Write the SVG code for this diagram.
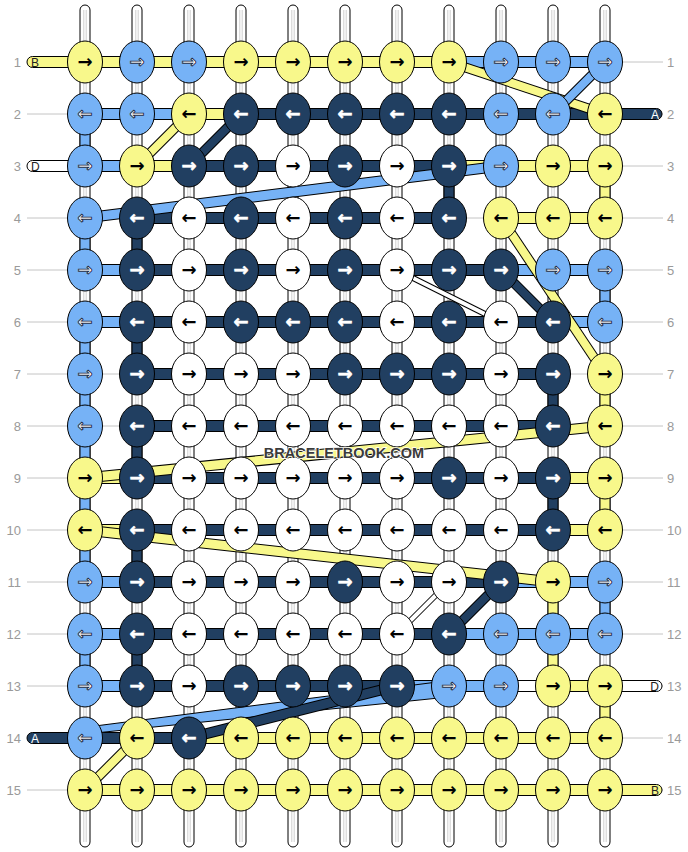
<svg xmlns="http://www.w3.org/2000/svg" width="688" height="852" viewBox="0 0 688 852">
<style>
.g{stroke:#c4c4c4;stroke-width:1}
.st{fill:#fff;stroke:#000;stroke-width:1}
.sl{stroke:#cfcfcf;stroke-width:1;fill:none}
.Y{fill:#F8F88B}.B{fill:#76B2F6}.D{fill:#213F61}.W{fill:#fff}
.o{stroke:#000;stroke-width:1}
ellipse{stroke:#000;stroke-width:1}
.a{font-family:"DejaVu Sans",sans-serif;font-size:18px;font-weight:bold;text-anchor:middle}
.k{fill:#000}
.w{fill:#fff;stroke:#1b2b44;stroke-width:0.9}
ellipse.D+text{stroke:#fff;stroke-width:0.6}
.lb{font-family:"Liberation Sans",Arial,sans-serif;font-size:13px;fill:#9a9a9a}
.le{text-anchor:end}
.tl{font-family:"Liberation Sans",Arial,sans-serif;font-size:12px}
.dl{fill:none;stroke-linecap:butt}
.k10{stroke:#000;stroke-width:10}.k11{stroke:#000;stroke-width:11}.k6{stroke:#000;stroke-width:6}
.sY{stroke:#F8F88B}.sB{stroke:#76B2F6}.sD{stroke:#213F61}.sW{stroke:#fff}
.w8{stroke-width:8}.w9{stroke-width:9}.w4{stroke-width:4}
.wm{font-family:"Liberation Sans",Arial,sans-serif;font-size:14.5px;font-weight:bold;fill:#3b3b3b;stroke:#fff;stroke-width:1.5;paint-order:stroke;text-anchor:middle}
</style>
<g id="guides">
<line class="g" x1="27" x2="663" y1="62" y2="62"/><line class="g" x1="27" x2="663" y1="114" y2="114"/><line class="g" x1="27" x2="663" y1="166" y2="166"/><line class="g" x1="27" x2="663" y1="218" y2="218"/><line class="g" x1="27" x2="663" y1="270" y2="270"/><line class="g" x1="27" x2="663" y1="322" y2="322"/><line class="g" x1="27" x2="663" y1="374" y2="374"/><line class="g" x1="27" x2="663" y1="426" y2="426"/><line class="g" x1="27" x2="663" y1="478" y2="478"/><line class="g" x1="27" x2="663" y1="530" y2="530"/><line class="g" x1="27" x2="663" y1="582" y2="582"/><line class="g" x1="27" x2="663" y1="634" y2="634"/><line class="g" x1="27" x2="663" y1="686" y2="686"/><line class="g" x1="27" x2="663" y1="738" y2="738"/><line class="g" x1="27" x2="663" y1="790" y2="790"/>
</g>
<g id="labels">
<text class="lb le" x="21" y="66.5">1</text><text class="lb le" x="21" y="118.5">2</text><text class="lb le" x="21" y="170.5">3</text><text class="lb le" x="21" y="222.5">4</text><text class="lb le" x="21" y="274.5">5</text><text class="lb le" x="21" y="326.5">6</text><text class="lb le" x="21" y="378.5">7</text><text class="lb le" x="21" y="430.5">8</text><text class="lb le" x="21" y="482.5">9</text><text class="lb le" x="21" y="534.5">10</text><text class="lb le" x="21" y="586.5">11</text><text class="lb le" x="21" y="638.5">12</text><text class="lb le" x="21" y="690.5">13</text><text class="lb le" x="21" y="742.5">14</text><text class="lb le" x="21" y="794.5">15</text>
<text class="lb" x="667" y="66.5">1</text><text class="lb" x="667" y="118.5">2</text><text class="lb" x="667" y="170.5">3</text><text class="lb" x="667" y="222.5">4</text><text class="lb" x="667" y="274.5">5</text><text class="lb" x="667" y="326.5">6</text><text class="lb" x="667" y="378.5">7</text><text class="lb" x="667" y="430.5">8</text><text class="lb" x="667" y="482.5">9</text><text class="lb" x="667" y="534.5">10</text><text class="lb" x="667" y="586.5">11</text><text class="lb" x="667" y="638.5">12</text><text class="lb" x="667" y="690.5">13</text><text class="lb" x="667" y="742.5">14</text><text class="lb" x="667" y="794.5">15</text>
</g>
<g id="strands">
<rect class="st" x="80" y="5" width="10" height="842" rx="5"/><rect class="st" x="132" y="5" width="10" height="842" rx="5"/><rect class="st" x="184" y="5" width="10" height="842" rx="5"/><rect class="st" x="236" y="5" width="10" height="842" rx="5"/><rect class="st" x="288" y="5" width="10" height="842" rx="5"/><rect class="st" x="340" y="5" width="10" height="842" rx="5"/><rect class="st" x="392" y="5" width="10" height="842" rx="5"/><rect class="st" x="444" y="5" width="10" height="842" rx="5"/><rect class="st" x="496" y="5" width="10" height="842" rx="5"/><rect class="st" x="548" y="5" width="10" height="842" rx="5"/><rect class="st" x="600" y="5" width="10" height="842" rx="5"/>
<path class="sl" d="M83.8 10V842M86.2 10V842M135.8 10V842M138.2 10V842M187.8 10V842M190.2 10V842M239.8 10V842M242.2 10V842M291.8 10V842M294.2 10V842M343.8 10V842M346.2 10V842M395.8 10V842M398.2 10V842M447.8 10V842M450.2 10V842M499.8 10V842M502.2 10V842M551.8 10V842M554.2 10V842M603.8 10V842M606.2 10V842"/>
</g>
<g id="connectors">
<g id="verticals">
<rect class="B o" x="80" y="114" width="10" height="52"/>
<rect class="D o" x="444" y="166" width="10" height="52"/>
<rect class="Y o" x="600" y="166" width="10" height="52"/>
<rect class="B o" x="80" y="218" width="10" height="52"/>
<rect class="D o" x="132" y="218" width="10" height="52"/>
<rect class="B o" x="600" y="270" width="10" height="52"/>
<rect class="B o" x="80" y="322" width="10" height="260"/>
<rect class="D o" x="132" y="322" width="10" height="52"/>
<rect class="D o" x="548" y="374" width="10" height="52"/>
<rect class="Y o" x="600" y="374" width="10" height="52"/>
<rect class="D o" x="132" y="426" width="10" height="52"/>
<rect class="D o" x="548" y="478" width="10" height="52"/>
<rect class="Y o" x="600" y="478" width="10" height="52"/>
<rect class="D o" x="132" y="530" width="10" height="52"/>
<rect class="Y o" x="548" y="582" width="10" height="104"/>
<rect class="B o" x="600" y="582" width="10" height="52"/>
<rect class="B o" x="80" y="634" width="10" height="52"/>
<rect class="D o" x="132" y="634" width="10" height="52"/>
<rect class="Y o" x="600" y="686" width="10" height="52"/>
</g>
<g id="bars">
<rect class="Y o" x="85" y="56.5" width="364" height="11"/><rect class="B o" x="449" y="56.5" width="156" height="11"/>
<rect class="B o" x="85" y="108.5" width="104" height="11"/><rect class="Y o" x="189" y="108.5" width="52" height="11"/><rect class="D o" x="241" y="108.5" width="364" height="11"/>
<rect class="B o" x="85" y="160.5" width="52" height="11"/><rect class="Y o" x="137" y="160.5" width="52" height="11"/><rect class="D o" x="189" y="160.5" width="260" height="11"/><rect class="Y o" x="449" y="160.5" width="156" height="11"/>
<rect class="D o" x="137" y="212.5" width="312" height="11"/><rect class="Y o" x="501" y="212.5" width="104" height="11"/>
<rect class="B o" x="85" y="264.5" width="52" height="11"/><rect class="D o" x="137" y="264.5" width="364" height="11"/><rect class="B o" x="501" y="264.5" width="104" height="11"/>
<rect class="B o" x="85" y="316.5" width="52" height="11"/><rect class="D o" x="137" y="316.5" width="416" height="11"/><rect class="B o" x="553" y="316.5" width="52" height="11"/>
<rect class="D o" x="137" y="368.5" width="416" height="11"/>
<rect class="D o" x="137" y="420.5" width="416" height="11"/>
<rect class="Y o" x="85" y="472.5" width="52" height="11"/><rect class="D o" x="137" y="472.5" width="416" height="11"/><rect class="Y o" x="553" y="472.5" width="52" height="11"/>
<rect class="Y o" x="85" y="524.5" width="52" height="11"/><rect class="D o" x="137" y="524.5" width="416" height="11"/><rect class="Y o" x="553" y="524.5" width="52" height="11"/>
<rect class="B o" x="85" y="576.5" width="52" height="11"/><rect class="D o" x="137" y="576.5" width="364" height="11"/><rect class="B o" x="501" y="576.5" width="104" height="11"/>
<rect class="B o" x="85" y="628.5" width="52" height="11"/><rect class="D o" x="137" y="628.5" width="312" height="11"/><rect class="B o" x="449" y="628.5" width="156" height="11"/>
<rect class="B o" x="85" y="680.5" width="52" height="11"/><rect class="D o" x="137" y="680.5" width="260" height="11"/><rect class="B o" x="397" y="680.5" width="104" height="11"/><rect class="W o" x="501" y="680.5" width="52" height="11"/><rect class="Y o" x="553" y="680.5" width="52" height="11"/>
<rect class="D o" x="85" y="732.5" width="104" height="11"/><rect class="Y o" x="189" y="732.5" width="416" height="11"/>
<rect class="Y o" x="85" y="784.5" width="520" height="11"/>
</g>
<g id="tabs">
<path class="Y o" d="M85,56.5H32.5A5.5,5.5 0 0 0 32.5,67.5H85Z"/><text class="tl" x="31" y="66.5" fill="#222">B</text>
<path class="W o" d="M85,160.5H32.5A5.5,5.5 0 0 0 32.5,171.5H85Z"/><text class="tl" x="31" y="170.5" fill="#222">D</text>
<path class="D o" d="M85,732.5H32.5A5.5,5.5 0 0 0 32.5,743.5H85Z"/><text class="tl" x="31" y="742.5" fill="#fff">A</text>
<path class="D o" d="M605,108.5H656.5A5.5,5.5 0 0 1 656.5,119.5H605Z"/><text class="tl le" x="659" y="118.5" fill="#fff">A</text>
<path class="W o" d="M605,680.5H656.5A5.5,5.5 0 0 1 656.5,691.5H605Z"/><text class="tl le" x="659" y="690.5" fill="#222">D</text>
<path class="Y o" d="M605,784.5H656.5A5.5,5.5 0 0 1 656.5,795.5H605Z"/><text class="tl le" x="659" y="794.5" fill="#222">B</text>
</g>
<g id="diagonals">
<path class="dl k10" d="M449,62L605,114"/><path class="dl sY w8" d="M449,62L605,114"/>
<path class="dl k10" d="M605,62L553,114"/><path class="dl sB w8" d="M605,62L553,114"/>
<path class="dl k10" d="M189,114L137,166"/><path class="dl sY w8" d="M189,114L137,166"/>
<path class="dl k10" d="M241,114L189,166"/><path class="dl sD w8" d="M241,114L189,166"/>
<path class="dl k11" d="M501,166L85,218"/><path class="dl sB w9" d="M501,166L85,218"/>
<path class="dl k10" d="M501,270L553,322"/><path class="dl sD w8" d="M501,270L553,322"/>
<path class="dl k10" d="M501,218L605,374"/><path class="dl sY w8" d="M501,218L605,374"/>
<path class="dl k6" d="M397,270L501,322"/><path class="dl sW w4" d="M397,270L501,322"/>
<path class="dl k11" d="M605,426L85,478"/><path class="dl sY w9" d="M605,426L85,478"/>
<path class="dl k11" d="M85,530L553,582"/><path class="dl sY w9" d="M85,530L553,582"/>
<path class="dl k10" d="M501,582L449,634"/><path class="dl sD w8" d="M501,582L449,634"/>
<path class="dl k6" d="M449,582L397,634"/><path class="dl sW w4" d="M449,582L397,634"/>
<polygon class="B o" points="449,680.5 449,697 95,733 95,726"/>
<path class="dl k11" d="M397,686L189,738"/><path class="dl sD w9" d="M397,686L189,738"/>
<path class="dl k10" d="M137,738L85,790"/><path class="dl sY w8" d="M137,738L85,790"/>
</g>
</g>
<g id="nodes">
<g id="n1"><ellipse class="Y" cx="85" cy="62" rx="17.5" ry="21"/><text class="a k" x="85" y="68">→</text><ellipse class="B" cx="137" cy="62" rx="17.5" ry="21"/><text class="a w" x="137" y="68">→</text><ellipse class="B" cx="189" cy="62" rx="17.5" ry="21"/><text class="a w" x="189" y="68">→</text><ellipse class="Y" cx="241" cy="62" rx="17.5" ry="21"/><text class="a k" x="241" y="68">→</text><ellipse class="Y" cx="293" cy="62" rx="17.5" ry="21"/><text class="a k" x="293" y="68">→</text><ellipse class="Y" cx="345" cy="62" rx="17.5" ry="21"/><text class="a k" x="345" y="68">→</text><ellipse class="Y" cx="397" cy="62" rx="17.5" ry="21"/><text class="a k" x="397" y="68">→</text><ellipse class="Y" cx="449" cy="62" rx="17.5" ry="21"/><text class="a k" x="449" y="68">→</text><ellipse class="B" cx="501" cy="62" rx="17.5" ry="21"/><text class="a w" x="501" y="68">→</text><ellipse class="B" cx="553" cy="62" rx="17.5" ry="21"/><text class="a w" x="553" y="68">→</text><ellipse class="B" cx="605" cy="62" rx="17.5" ry="21"/><text class="a w" x="605" y="68">→</text></g>
<g id="n2"><ellipse class="B" cx="85" cy="114" rx="17.5" ry="21"/><text class="a w" x="85" y="120">←</text><ellipse class="B" cx="137" cy="114" rx="17.5" ry="21"/><text class="a w" x="137" y="120">←</text><ellipse class="Y" cx="189" cy="114" rx="17.5" ry="21"/><text class="a k" x="189" y="120">←</text><ellipse class="D" cx="241" cy="114" rx="17.5" ry="21"/><text class="a w" x="241" y="120">←</text><ellipse class="D" cx="293" cy="114" rx="17.5" ry="21"/><text class="a w" x="293" y="120">←</text><ellipse class="D" cx="345" cy="114" rx="17.5" ry="21"/><text class="a w" x="345" y="120">←</text><ellipse class="D" cx="397" cy="114" rx="17.5" ry="21"/><text class="a w" x="397" y="120">←</text><ellipse class="D" cx="449" cy="114" rx="17.5" ry="21"/><text class="a w" x="449" y="120">←</text><ellipse class="B" cx="501" cy="114" rx="17.5" ry="21"/><text class="a w" x="501" y="120">←</text><ellipse class="B" cx="553" cy="114" rx="17.5" ry="21"/><text class="a w" x="553" y="120">←</text><ellipse class="Y" cx="605" cy="114" rx="17.5" ry="21"/><text class="a k" x="605" y="120">←</text></g>
<g id="n3"><ellipse class="B" cx="85" cy="166" rx="17.5" ry="21"/><text class="a w" x="85" y="172">→</text><ellipse class="Y" cx="137" cy="166" rx="17.5" ry="21"/><text class="a k" x="137" y="172">→</text><ellipse class="D" cx="189" cy="166" rx="17.5" ry="21"/><text class="a w" x="189" y="172">→</text><ellipse class="D" cx="241" cy="166" rx="17.5" ry="21"/><text class="a w" x="241" y="172">→</text><ellipse class="W" cx="293" cy="166" rx="17.5" ry="21"/><text class="a k" x="293" y="172">→</text><ellipse class="D" cx="345" cy="166" rx="17.5" ry="21"/><text class="a w" x="345" y="172">→</text><ellipse class="W" cx="397" cy="166" rx="17.5" ry="21"/><text class="a k" x="397" y="172">→</text><ellipse class="D" cx="449" cy="166" rx="17.5" ry="21"/><text class="a w" x="449" y="172">→</text><ellipse class="B" cx="501" cy="166" rx="17.5" ry="21"/><text class="a w" x="501" y="172">→</text><ellipse class="Y" cx="553" cy="166" rx="17.5" ry="21"/><text class="a k" x="553" y="172">→</text><ellipse class="Y" cx="605" cy="166" rx="17.5" ry="21"/><text class="a k" x="605" y="172">→</text></g>
<g id="n4"><ellipse class="B" cx="85" cy="218" rx="17.5" ry="21"/><text class="a w" x="85" y="224">←</text><ellipse class="D" cx="137" cy="218" rx="17.5" ry="21"/><text class="a w" x="137" y="224">←</text><ellipse class="W" cx="189" cy="218" rx="17.5" ry="21"/><text class="a k" x="189" y="224">←</text><ellipse class="D" cx="241" cy="218" rx="17.5" ry="21"/><text class="a w" x="241" y="224">←</text><ellipse class="W" cx="293" cy="218" rx="17.5" ry="21"/><text class="a k" x="293" y="224">←</text><ellipse class="D" cx="345" cy="218" rx="17.5" ry="21"/><text class="a w" x="345" y="224">←</text><ellipse class="W" cx="397" cy="218" rx="17.5" ry="21"/><text class="a k" x="397" y="224">←</text><ellipse class="D" cx="449" cy="218" rx="17.5" ry="21"/><text class="a w" x="449" y="224">←</text><ellipse class="Y" cx="501" cy="218" rx="17.5" ry="21"/><text class="a k" x="501" y="224">←</text><ellipse class="Y" cx="553" cy="218" rx="17.5" ry="21"/><text class="a k" x="553" y="224">←</text><ellipse class="Y" cx="605" cy="218" rx="17.5" ry="21"/><text class="a k" x="605" y="224">←</text></g>
<g id="n5"><ellipse class="B" cx="85" cy="270" rx="17.5" ry="21"/><text class="a w" x="85" y="276">→</text><ellipse class="D" cx="137" cy="270" rx="17.5" ry="21"/><text class="a w" x="137" y="276">→</text><ellipse class="W" cx="189" cy="270" rx="17.5" ry="21"/><text class="a k" x="189" y="276">→</text><ellipse class="D" cx="241" cy="270" rx="17.5" ry="21"/><text class="a w" x="241" y="276">→</text><ellipse class="W" cx="293" cy="270" rx="17.5" ry="21"/><text class="a k" x="293" y="276">→</text><ellipse class="D" cx="345" cy="270" rx="17.5" ry="21"/><text class="a w" x="345" y="276">→</text><ellipse class="W" cx="397" cy="270" rx="17.5" ry="21"/><text class="a k" x="397" y="276">→</text><ellipse class="D" cx="449" cy="270" rx="17.5" ry="21"/><text class="a w" x="449" y="276">→</text><ellipse class="D" cx="501" cy="270" rx="17.5" ry="21"/><text class="a w" x="501" y="276">→</text><ellipse class="B" cx="553" cy="270" rx="17.5" ry="21"/><text class="a w" x="553" y="276">→</text><ellipse class="B" cx="605" cy="270" rx="17.5" ry="21"/><text class="a w" x="605" y="276">→</text></g>
<g id="n6"><ellipse class="B" cx="85" cy="322" rx="17.5" ry="21"/><text class="a w" x="85" y="328">←</text><ellipse class="D" cx="137" cy="322" rx="17.5" ry="21"/><text class="a w" x="137" y="328">←</text><ellipse class="W" cx="189" cy="322" rx="17.5" ry="21"/><text class="a k" x="189" y="328">←</text><ellipse class="D" cx="241" cy="322" rx="17.5" ry="21"/><text class="a w" x="241" y="328">←</text><ellipse class="D" cx="293" cy="322" rx="17.5" ry="21"/><text class="a w" x="293" y="328">←</text><ellipse class="D" cx="345" cy="322" rx="17.5" ry="21"/><text class="a w" x="345" y="328">←</text><ellipse class="W" cx="397" cy="322" rx="17.5" ry="21"/><text class="a k" x="397" y="328">←</text><ellipse class="D" cx="449" cy="322" rx="17.5" ry="21"/><text class="a w" x="449" y="328">←</text><ellipse class="W" cx="501" cy="322" rx="17.5" ry="21"/><text class="a k" x="501" y="328">←</text><ellipse class="D" cx="553" cy="322" rx="17.5" ry="21"/><text class="a w" x="553" y="328">←</text><ellipse class="B" cx="605" cy="322" rx="17.5" ry="21"/><text class="a w" x="605" y="328">←</text></g>
<g id="n7"><ellipse class="B" cx="85" cy="374" rx="17.5" ry="21"/><text class="a w" x="85" y="380">→</text><ellipse class="D" cx="137" cy="374" rx="17.5" ry="21"/><text class="a w" x="137" y="380">→</text><ellipse class="W" cx="189" cy="374" rx="17.5" ry="21"/><text class="a k" x="189" y="380">→</text><ellipse class="W" cx="241" cy="374" rx="17.5" ry="21"/><text class="a k" x="241" y="380">→</text><ellipse class="W" cx="293" cy="374" rx="17.5" ry="21"/><text class="a k" x="293" y="380">→</text><ellipse class="D" cx="345" cy="374" rx="17.5" ry="21"/><text class="a w" x="345" y="380">→</text><ellipse class="D" cx="397" cy="374" rx="17.5" ry="21"/><text class="a w" x="397" y="380">→</text><ellipse class="D" cx="449" cy="374" rx="17.5" ry="21"/><text class="a w" x="449" y="380">→</text><ellipse class="W" cx="501" cy="374" rx="17.5" ry="21"/><text class="a k" x="501" y="380">→</text><ellipse class="D" cx="553" cy="374" rx="17.5" ry="21"/><text class="a w" x="553" y="380">→</text><ellipse class="Y" cx="605" cy="374" rx="17.5" ry="21"/><text class="a k" x="605" y="380">→</text></g>
<g id="n8"><ellipse class="B" cx="85" cy="426" rx="17.5" ry="21"/><text class="a w" x="85" y="432">←</text><ellipse class="D" cx="137" cy="426" rx="17.5" ry="21"/><text class="a w" x="137" y="432">←</text><ellipse class="W" cx="189" cy="426" rx="17.5" ry="21"/><text class="a k" x="189" y="432">←</text><ellipse class="W" cx="241" cy="426" rx="17.5" ry="21"/><text class="a k" x="241" y="432">←</text><ellipse class="W" cx="293" cy="426" rx="17.5" ry="21"/><text class="a k" x="293" y="432">←</text><ellipse class="W" cx="345" cy="426" rx="17.5" ry="21"/><text class="a k" x="345" y="432">←</text><ellipse class="W" cx="397" cy="426" rx="17.5" ry="21"/><text class="a k" x="397" y="432">←</text><ellipse class="W" cx="449" cy="426" rx="17.5" ry="21"/><text class="a k" x="449" y="432">←</text><ellipse class="W" cx="501" cy="426" rx="17.5" ry="21"/><text class="a k" x="501" y="432">←</text><ellipse class="D" cx="553" cy="426" rx="17.5" ry="21"/><text class="a w" x="553" y="432">←</text><ellipse class="Y" cx="605" cy="426" rx="17.5" ry="21"/><text class="a k" x="605" y="432">←</text></g>
<g id="n9"><ellipse class="Y" cx="85" cy="478" rx="17.5" ry="21"/><text class="a k" x="85" y="484">→</text><ellipse class="D" cx="137" cy="478" rx="17.5" ry="21"/><text class="a w" x="137" y="484">→</text><ellipse class="W" cx="189" cy="478" rx="17.5" ry="21"/><text class="a k" x="189" y="484">→</text><ellipse class="W" cx="241" cy="478" rx="17.5" ry="21"/><text class="a k" x="241" y="484">→</text><ellipse class="W" cx="293" cy="478" rx="17.5" ry="21"/><text class="a k" x="293" y="484">→</text><ellipse class="W" cx="345" cy="478" rx="17.5" ry="21"/><text class="a k" x="345" y="484">→</text><ellipse class="W" cx="397" cy="478" rx="17.5" ry="21"/><text class="a k" x="397" y="484">→</text><ellipse class="D" cx="449" cy="478" rx="17.5" ry="21"/><text class="a w" x="449" y="484">→</text><ellipse class="W" cx="501" cy="478" rx="17.5" ry="21"/><text class="a k" x="501" y="484">→</text><ellipse class="D" cx="553" cy="478" rx="17.5" ry="21"/><text class="a w" x="553" y="484">→</text><ellipse class="Y" cx="605" cy="478" rx="17.5" ry="21"/><text class="a k" x="605" y="484">→</text></g>
<g id="n10"><ellipse class="Y" cx="85" cy="530" rx="17.5" ry="21"/><text class="a k" x="85" y="536">←</text><ellipse class="D" cx="137" cy="530" rx="17.5" ry="21"/><text class="a w" x="137" y="536">←</text><ellipse class="W" cx="189" cy="530" rx="17.5" ry="21"/><text class="a k" x="189" y="536">←</text><ellipse class="W" cx="241" cy="530" rx="17.5" ry="21"/><text class="a k" x="241" y="536">←</text><ellipse class="W" cx="293" cy="530" rx="17.5" ry="21"/><text class="a k" x="293" y="536">←</text><ellipse class="W" cx="345" cy="530" rx="17.5" ry="21"/><text class="a k" x="345" y="536">←</text><ellipse class="W" cx="397" cy="530" rx="17.5" ry="21"/><text class="a k" x="397" y="536">←</text><ellipse class="W" cx="449" cy="530" rx="17.5" ry="21"/><text class="a k" x="449" y="536">←</text><ellipse class="W" cx="501" cy="530" rx="17.5" ry="21"/><text class="a k" x="501" y="536">←</text><ellipse class="D" cx="553" cy="530" rx="17.5" ry="21"/><text class="a w" x="553" y="536">←</text><ellipse class="Y" cx="605" cy="530" rx="17.5" ry="21"/><text class="a k" x="605" y="536">←</text></g>
<g id="n11"><ellipse class="B" cx="85" cy="582" rx="17.5" ry="21"/><text class="a w" x="85" y="588">→</text><ellipse class="D" cx="137" cy="582" rx="17.5" ry="21"/><text class="a w" x="137" y="588">→</text><ellipse class="W" cx="189" cy="582" rx="17.5" ry="21"/><text class="a k" x="189" y="588">→</text><ellipse class="W" cx="241" cy="582" rx="17.5" ry="21"/><text class="a k" x="241" y="588">→</text><ellipse class="W" cx="293" cy="582" rx="17.5" ry="21"/><text class="a k" x="293" y="588">→</text><ellipse class="D" cx="345" cy="582" rx="17.5" ry="21"/><text class="a w" x="345" y="588">→</text><ellipse class="W" cx="397" cy="582" rx="17.5" ry="21"/><text class="a k" x="397" y="588">→</text><ellipse class="W" cx="449" cy="582" rx="17.5" ry="21"/><text class="a k" x="449" y="588">→</text><ellipse class="D" cx="501" cy="582" rx="17.5" ry="21"/><text class="a w" x="501" y="588">→</text><ellipse class="Y" cx="553" cy="582" rx="17.5" ry="21"/><text class="a k" x="553" y="588">→</text><ellipse class="B" cx="605" cy="582" rx="17.5" ry="21"/><text class="a w" x="605" y="588">→</text></g>
<g id="n12"><ellipse class="B" cx="85" cy="634" rx="17.5" ry="21"/><text class="a w" x="85" y="640">←</text><ellipse class="D" cx="137" cy="634" rx="17.5" ry="21"/><text class="a w" x="137" y="640">←</text><ellipse class="W" cx="189" cy="634" rx="17.5" ry="21"/><text class="a k" x="189" y="640">←</text><ellipse class="W" cx="241" cy="634" rx="17.5" ry="21"/><text class="a k" x="241" y="640">←</text><ellipse class="W" cx="293" cy="634" rx="17.5" ry="21"/><text class="a k" x="293" y="640">←</text><ellipse class="W" cx="345" cy="634" rx="17.5" ry="21"/><text class="a k" x="345" y="640">←</text><ellipse class="W" cx="397" cy="634" rx="17.5" ry="21"/><text class="a k" x="397" y="640">←</text><ellipse class="D" cx="449" cy="634" rx="17.5" ry="21"/><text class="a w" x="449" y="640">←</text><ellipse class="B" cx="501" cy="634" rx="17.5" ry="21"/><text class="a w" x="501" y="640">←</text><ellipse class="B" cx="553" cy="634" rx="17.5" ry="21"/><text class="a w" x="553" y="640">←</text><ellipse class="B" cx="605" cy="634" rx="17.5" ry="21"/><text class="a w" x="605" y="640">←</text></g>
<g id="n13"><ellipse class="B" cx="85" cy="686" rx="17.5" ry="21"/><text class="a w" x="85" y="692">→</text><ellipse class="D" cx="137" cy="686" rx="17.5" ry="21"/><text class="a w" x="137" y="692">→</text><ellipse class="W" cx="189" cy="686" rx="17.5" ry="21"/><text class="a k" x="189" y="692">→</text><ellipse class="D" cx="241" cy="686" rx="17.5" ry="21"/><text class="a w" x="241" y="692">→</text><ellipse class="D" cx="293" cy="686" rx="17.5" ry="21"/><text class="a w" x="293" y="692">→</text><ellipse class="D" cx="345" cy="686" rx="17.5" ry="21"/><text class="a w" x="345" y="692">→</text><ellipse class="D" cx="397" cy="686" rx="17.5" ry="21"/><text class="a w" x="397" y="692">→</text><ellipse class="B" cx="449" cy="686" rx="17.5" ry="21"/><text class="a w" x="449" y="692">→</text><ellipse class="B" cx="501" cy="686" rx="17.5" ry="21"/><text class="a w" x="501" y="692">→</text><ellipse class="Y" cx="553" cy="686" rx="17.5" ry="21"/><text class="a k" x="553" y="692">→</text><ellipse class="Y" cx="605" cy="686" rx="17.5" ry="21"/><text class="a k" x="605" y="692">→</text></g>
<g id="n14"><ellipse class="B" cx="85" cy="738" rx="17.5" ry="21"/><text class="a w" x="85" y="744">←</text><ellipse class="Y" cx="137" cy="738" rx="17.5" ry="21"/><text class="a k" x="137" y="744">←</text><ellipse class="D" cx="189" cy="738" rx="17.5" ry="21"/><text class="a w" x="189" y="744">←</text><ellipse class="Y" cx="241" cy="738" rx="17.5" ry="21"/><text class="a k" x="241" y="744">←</text><ellipse class="Y" cx="293" cy="738" rx="17.5" ry="21"/><text class="a k" x="293" y="744">←</text><ellipse class="Y" cx="345" cy="738" rx="17.5" ry="21"/><text class="a k" x="345" y="744">←</text><ellipse class="Y" cx="397" cy="738" rx="17.5" ry="21"/><text class="a k" x="397" y="744">←</text><ellipse class="Y" cx="449" cy="738" rx="17.5" ry="21"/><text class="a k" x="449" y="744">←</text><ellipse class="Y" cx="501" cy="738" rx="17.5" ry="21"/><text class="a k" x="501" y="744">←</text><ellipse class="Y" cx="553" cy="738" rx="17.5" ry="21"/><text class="a k" x="553" y="744">←</text><ellipse class="Y" cx="605" cy="738" rx="17.5" ry="21"/><text class="a k" x="605" y="744">←</text></g>
<g id="n15"><ellipse class="Y" cx="85" cy="790" rx="17.5" ry="21"/><text class="a k" x="85" y="796">→</text><ellipse class="Y" cx="137" cy="790" rx="17.5" ry="21"/><text class="a k" x="137" y="796">→</text><ellipse class="Y" cx="189" cy="790" rx="17.5" ry="21"/><text class="a k" x="189" y="796">→</text><ellipse class="Y" cx="241" cy="790" rx="17.5" ry="21"/><text class="a k" x="241" y="796">→</text><ellipse class="Y" cx="293" cy="790" rx="17.5" ry="21"/><text class="a k" x="293" y="796">→</text><ellipse class="Y" cx="345" cy="790" rx="17.5" ry="21"/><text class="a k" x="345" y="796">→</text><ellipse class="Y" cx="397" cy="790" rx="17.5" ry="21"/><text class="a k" x="397" y="796">→</text><ellipse class="Y" cx="449" cy="790" rx="17.5" ry="21"/><text class="a k" x="449" y="796">→</text><ellipse class="Y" cx="501" cy="790" rx="17.5" ry="21"/><text class="a k" x="501" y="796">→</text><ellipse class="Y" cx="553" cy="790" rx="17.5" ry="21"/><text class="a k" x="553" y="796">→</text><ellipse class="Y" cx="605" cy="790" rx="17.5" ry="21"/><text class="a k" x="605" y="796">→</text></g>
</g>
<text class="wm" x="344" y="458">BRACELETBOOK.COM</text>
</svg>
